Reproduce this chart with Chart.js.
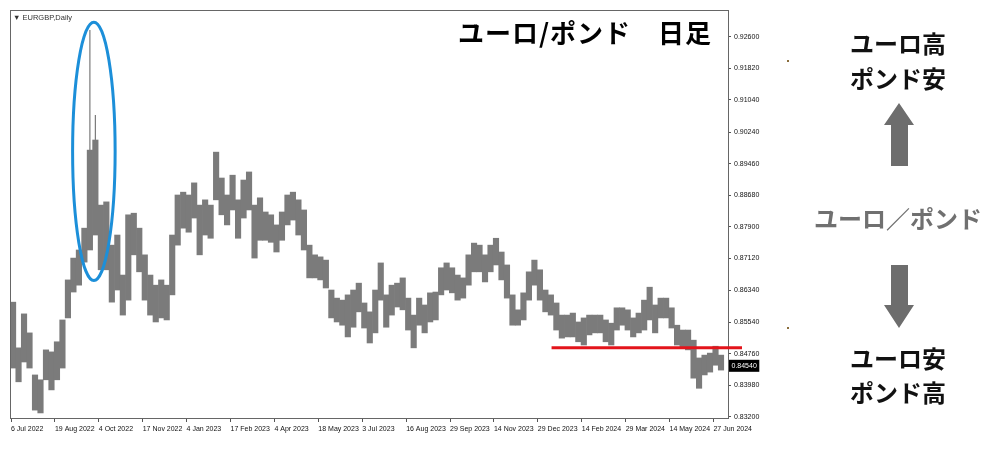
<!DOCTYPE html>
<html lang="ja">
<head>
<meta charset="utf-8">
<title>EURGBP Daily</title>
<script src="https://cdn.jsdelivr.net/npm/chart.js@4.4.1/dist/chart.umd.min.js"></script>
<style>
  html, body { margin: 0; padding: 0; background: #fff; }
  #wrap { position: relative; width: 1000px; height: 451px; overflow: hidden; }
  #eur-chart { position: absolute; left: 0; top: 0; }
  .jp { position: absolute; font-family: "Noto Sans CJK JP", sans-serif; font-weight: bold; white-space: nowrap; line-height: 1; }
  .side { left: 798px; width: 200px; text-align: center; font-size: 24px; color: #111; }
  #sym { position: absolute; left: 13px; top: 13px; font: 7.5px "Liberation Sans", sans-serif; color: #333; }
</style>
</head>
<body>
<div id="wrap">
  <canvas id="eur-chart" width="1000" height="451"></canvas>
  <div id="sym">&#9660; EURGBP,Daily</div>
  <div class="jp" style="right:288px; top:19px; font-size:26px; letter-spacing:1px; color:#000;">ユーロ/ポンド　日足</div>
  <div class="jp side" style="top:31px;">ユーロ高</div>
  <div class="jp side" style="top:66px;">ポンド安</div>
  <div class="jp side" style="top:206px; color:#707070;">ユーロ／ポンド</div>
  <div class="jp side" style="top:346px;">ユーロ安</div>
  <div class="jp side" style="top:380px;">ポンド高</div>
</div>
<script>
// date labels on the time axis, one every 32 trading days
var dateLabels = ['6 Jul 2022', '19 Aug 2022', '4 Oct 2022', '17 Nov 2022', '4 Jan 2023', '17 Feb 2023',
  '4 Apr 2023', '18 May 2023', '3 Jul 2023', '16 Aug 2023', '29 Sep 2023', '14 Nov 2023',
  '29 Dec 2023', '14 Feb 2024', '29 Mar 2024', '14 May 2024', '27 Jun 2024'];
var tickDays = [0, 32, 64, 96, 128, 160, 192, 224, 256, 288, 320, 352, 384, 416, 448, 480, 512];

// price axis labels
var priceTicks = [0.8320, 0.8398, 0.8476, 0.8554, 0.8634, 0.8712, 0.8790,
  0.8868, 0.8946, 0.9024, 0.9104, 0.9182, 0.9260];

// high / low of each block of 4 trading days
var highs = [
  0.8604, 0.8491, 0.8575, 0.8528, 0.8424, 0.8412, 0.8486, 0.8481, 0.8506, 0.8560,
  0.8659, 0.8713, 0.8733, 0.8787, 0.8980, 0.9005, 0.8844, 0.8852, 0.8745, 0.8770,
  0.8671, 0.8820, 0.8824, 0.8787, 0.8721, 0.8671, 0.8646, 0.8659, 0.8646, 0.8770,
  0.8869, 0.8876, 0.8869, 0.8899, 0.8844, 0.8857, 0.8844, 0.8975, 0.8911, 0.8869,
  0.8918, 0.8857, 0.8906, 0.8926, 0.8844, 0.8862, 0.8827, 0.8820, 0.8795, 0.8827,
  0.8869, 0.8876, 0.8857, 0.8832, 0.8745, 0.8721, 0.8716, 0.8708, 0.8634, 0.8614,
  0.8609, 0.8622, 0.8634, 0.8651, 0.8602, 0.8580, 0.8634, 0.8701, 0.8622, 0.8646,
  0.8651, 0.8664, 0.8614, 0.8572, 0.8614, 0.8597, 0.8627, 0.8629, 0.8689, 0.8701,
  0.8689, 0.8671, 0.8664, 0.8721, 0.8750, 0.8745, 0.8721, 0.8745, 0.8762, 0.8728,
  0.8696, 0.8622, 0.8585, 0.8627, 0.8679, 0.8708, 0.8684, 0.8634, 0.8622, 0.8602,
  0.8572, 0.8572, 0.8577, 0.8555, 0.8565, 0.8572, 0.8572, 0.8572, 0.8560, 0.8552,
  0.8590, 0.8590, 0.8585, 0.8565, 0.8577, 0.8609, 0.8641, 0.8597, 0.8614, 0.8614,
  0.8590, 0.8547, 0.8535, 0.8535, 0.8510, 0.8466, 0.8473, 0.8478, 0.8495, 0.8473
];
var lows = [
  0.8441, 0.8407, 0.8456, 0.8441, 0.8337, 0.8330, 0.8412, 0.8387, 0.8412, 0.8441,
  0.8565, 0.8629, 0.8646, 0.8703, 0.8733, 0.8770, 0.8684, 0.8684, 0.8604, 0.8634,
  0.8572, 0.8609, 0.8721, 0.8679, 0.8609, 0.8572, 0.8555, 0.8565, 0.8560, 0.8622,
  0.8745, 0.8787, 0.8777, 0.8812, 0.8721, 0.8770, 0.8762, 0.8857, 0.8820, 0.8795,
  0.8832, 0.8762, 0.8812, 0.8832, 0.8713, 0.8757, 0.8757, 0.8752, 0.8728, 0.8757,
  0.8795, 0.8807, 0.8770, 0.8733, 0.8664, 0.8664, 0.8659, 0.8639, 0.8565, 0.8555,
  0.8547, 0.8518, 0.8542, 0.8580, 0.8540, 0.8503, 0.8528, 0.8609, 0.8542, 0.8572,
  0.8592, 0.8585, 0.8535, 0.8491, 0.8547, 0.8528, 0.8555, 0.8560, 0.8622, 0.8634,
  0.8627, 0.8609, 0.8614, 0.8646, 0.8679, 0.8679, 0.8654, 0.8679, 0.8696, 0.8659,
  0.8614, 0.8547, 0.8547, 0.8560, 0.8609, 0.8646, 0.8609, 0.8580, 0.8572, 0.8535,
  0.8515, 0.8518, 0.8518, 0.8506, 0.8498, 0.8523, 0.8528, 0.8528, 0.8506, 0.8498,
  0.8535, 0.8547, 0.8535, 0.8518, 0.8528, 0.8535, 0.8560, 0.8528, 0.8565, 0.8565,
  0.8540, 0.8498, 0.8491, 0.8486, 0.8416, 0.8391, 0.8424, 0.8431, 0.8448, 0.8436
];
// the Sep 2022 spikes (thin wicks above the band)
var wickBlocks = [14, 15];
var wickLows = [0.8733, 0.8770];
var wickHighs = [0.9277, 0.9067];

var lastClose = 0.8454;
var supportLevel = 0.8491;   // red line
var supportFromDay = 394;
// blue ellipse round the spike: centre day / price and half sizes
var ringDay = 60.4, ringPrice = 0.8977, ringDays = 15.5, ringPrices = 0.03195;

function blockDay(i) {
  return i * 4 + 1.5;
}

var rangeData = highs.map(function (h, i) { return { x: blockDay(i), y: [lows[i], h] }; });
var wickData = wickBlocks.map(function (b, k) { return { x: blockDay(b), y: [wickLows[k], wickHighs[k]] }; });

var smallFont = '"Liberation Sans", sans-serif';

var extras = {
  id: 'extras',
  afterDatasetsDraw: function (chart) {
    var ctx = chart.ctx, a = chart.chartArea;
    var xs = chart.scales.x, ys = chart.scales.y;
    ctx.save();
    // window frame
    ctx.strokeStyle = '#666';
    ctx.lineWidth = 1;
    ctx.strokeRect(a.left + 0.5, a.top + 0.5, a.right - a.left, a.bottom - a.top);

    // blue ellipse
    var cx = xs.getPixelForValue(ringDay), cy = ys.getPixelForValue(ringPrice);
    var rx = xs.getPixelForValue(ringDay + ringDays) - cx;
    var ry = cy - ys.getPixelForValue(ringPrice + ringPrices);
    ctx.beginPath();
    ctx.ellipse(cx, cy, rx, ry, 0, 0, Math.PI * 2);
    ctx.strokeStyle = '#1c8fd9';
    ctx.lineWidth = 3;
    ctx.stroke();

    // red support line
    var ry2 = ys.getPixelForValue(supportLevel);
    ctx.beginPath();
    ctx.moveTo(xs.getPixelForValue(supportFromDay), ry2);
    ctx.lineTo(a.right + 14, ry2);
    ctx.strokeStyle = '#e3141b';
    ctx.lineWidth = 3;
    ctx.stroke();

    // last price box
    var py = ys.getPixelForValue(lastClose) + 3;
    ctx.font = '7px ' + smallFont;
    var label = lastClose.toFixed(5);
    var w = ctx.measureText(label).width + 5;
    ctx.fillStyle = '#000';
    ctx.fillRect(a.right + 1, py - 6, w, 12);
    ctx.fillStyle = '#fff';
    ctx.textBaseline = 'middle';
    ctx.textAlign = 'left';
    ctx.fillText(label, a.right + 3.5, py);

    // arrows on the right
    ctx.fillStyle = '#6d6d6d';
    ctx.beginPath();
    ctx.moveTo(899, 103); ctx.lineTo(914, 125); ctx.lineTo(908, 125); ctx.lineTo(908, 166);
    ctx.lineTo(891, 166); ctx.lineTo(891, 125); ctx.lineTo(884, 125); ctx.closePath();
    ctx.fill();
    ctx.beginPath();
    ctx.moveTo(891, 265); ctx.lineTo(908, 265); ctx.lineTo(908, 305); ctx.lineTo(914, 305);
    ctx.lineTo(899, 328); ctx.lineTo(884, 305); ctx.lineTo(891, 305); ctx.closePath();
    ctx.fill();
    ctx.fillStyle = '#8a6d3b';
    ctx.fillRect(787, 60, 2, 2);
    ctx.fillRect(787, 327, 2, 2);
    ctx.restore();
  }
};

var tickFont = { family: smallFont, size: 7 };

var eurChart = new Chart(
  document.getElementById('eur-chart').getContext('2d'),
  {
    type: 'bar',
    data: {
      datasets: [{
        data: rangeData,
        backgroundColor: '#7b7b7b',
        borderWidth: 0,
        barPercentage: 1,
        categoryPercentage: 1,
        grouped: false
      }, {
        data: wickData,
        backgroundColor: '#7b7b7b',
        borderWidth: 0,
        barPercentage: 0.22,
        categoryPercentage: 1,
        grouped: false
      }]
    },
    options: {
      responsive: false,
      animation: false,
      layout: { padding: { left: 10, top: 10, right: 0, bottom: 0 } },
      plugins: { legend: { display: false }, tooltip: { enabled: false } },
      scales: {
        x: {
          type: 'linear',
          min: -0.73,
          max: 522.6,
          offset: false,
          afterFit: function (s) { s.height = 33; },
          afterBuildTicks: function (s) { s.ticks = tickDays.map(function (d) { return { value: d }; }); },
          grid: { drawOnChartArea: false, offset: false, tickLength: 4, color: '#555' },
          border: { color: '#666' },
          ticks: {
            autoSkip: false, maxRotation: 0, minRotation: 0, align: 'start', padding: 3,
            font: tickFont, color: '#111',
            callback: function (v, i) { return dateLabels[i]; }
          }
        },
        y: {
          position: 'right',
          min: 0.83175,
          max: 0.93265,
          afterFit: function (s) { s.width = 272; },
          afterBuildTicks: function (s) { s.ticks = priceTicks.map(function (p) { return { value: p }; }); },
          grid: { drawOnChartArea: false, tickLength: 3, color: '#555' },
          border: { color: '#666' },
          ticks: {
            padding: 3, font: tickFont, color: '#111',
            callback: function (v) { return v.toFixed(5); }
          }
        }
      }
    },
    plugins: [extras]
  }
);
</script>
</body>
</html>
